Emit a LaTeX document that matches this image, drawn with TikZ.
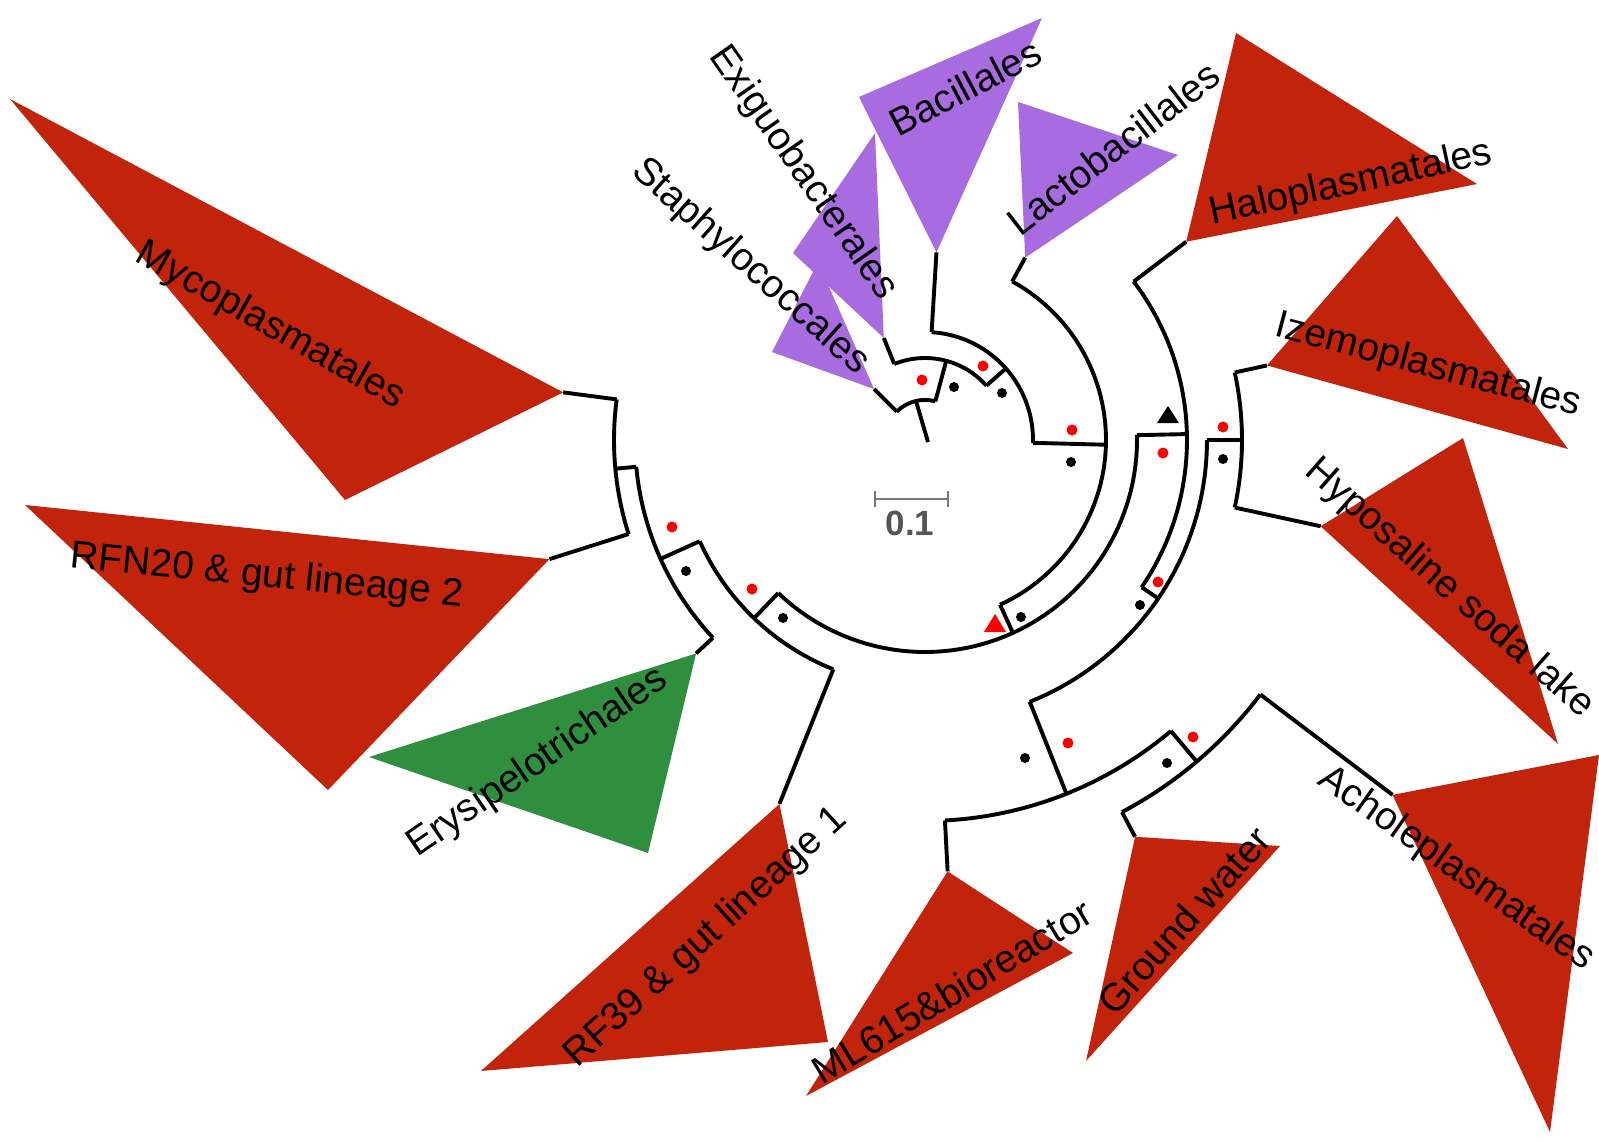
\documentclass[tikz,border=0pt]{standalone}
\usepackage{fontspec}
\setmainfont{Liberation Sans}
\definecolor{cRed}{HTML}{C1230B}
\definecolor{cPur}{HTML}{A96BE0}
\definecolor{cGrn}{HTML}{2F8F3F}
\definecolor{cBar}{HTML}{777777}
\definecolor{cTxt}{HTML}{555555}
\definecolor{cDot}{HTML}{FF0000}
\begin{document}
\begin{tikzpicture}[x=1pt,y=-1pt,
  br/.style={line width=3.9pt, black},
  lab/.style={font=\fontsize{39}{47}\selectfont, inner sep=0pt},
  rdot/.style={circle, fill=cDot, draw=none, minimum size=11pt, inner sep=0pt},
  bdot/.style={circle, fill=black, draw=none, minimum size=10pt, inner sep=0pt},
]
\useasboundingbox (0,0) rectangle (1599,1142);
\fill[white] (0,0) rectangle (1599,1142);

% ---------- tree coordinates (centre at 925,440) ----------
\begin{scope}[shift={(925,440)}]
\coordinate (root) at (3,2);
\coordinate (staT) at (-135:72);
\coordinate (exiT) at (-112:110);
\coordinate (bacT) at (-86.5:188);
\coordinate (lacT) at (-61.2:208);
\coordinate (halT) at (-37.2:328);
\coordinate (izeT) at (-12.3:350);
\coordinate (hypT) at (12.3:405);
\coordinate (achT) at (37.2:587);
\coordinate (gwT) at (62.1:449);
\coordinate (mlT) at (87:432);
\coordinate (rf39T) at (111.8:392);
\coordinate (eryT) at (137:313);
\coordinate (rfnT) at (162.4:394);
\coordinate (mycT) at (187.5:365);
\end{scope}

% ---------- wedges ----------
\fill[cRed] (mycT) -- (10,99) -- (345,500) -- cycle;
\fill[cRed] (rfnT) -- (25,505) -- (328,790) -- cycle;
\fill[cGrn] (eryT) -- (369,757) -- (648,853) -- cycle;
\fill[cRed] (rf39T) -- (481,1071) -- (828,1042) -- cycle;
\fill[cRed] (mlT) -- (806,1096) -- (1073,953) -- cycle;
\fill[cRed] (gwT) -- (1086,1061) -- (1280,846) -- cycle;
\fill[cRed] (achT) -- (1599,755) -- (1550,1132) -- cycle;
\fill[cRed] (hypT) -- (1463,438) -- (1558,744) -- cycle;
\fill[cRed] (izeT) -- (1397,216) -- (1568,449) -- cycle;
\fill[cRed] (halT) -- (1236,33) -- (1477,184) -- cycle;
\fill[cPur] (lacT) -- (1018,102) -- (1178,155) -- cycle;
\fill[cPur] (bacT) -- (859,97) -- (1042,18) -- cycle;
\fill[cPur] (staT) -- (818,262) -- (772,352) -- cycle;
\fill[cPur] (exiT) -- (875,133) -- (793,253) -- cycle;

% ---------- branches ----------
\begin{scope}[shift={(925,440)}]
% root
\draw[br] (root) -- (-103:40);
\draw[br] plot[domain=-135:-75, samples=30] (\x:40);
\draw[br] (-135:40) -- (staT);
% B
\draw[br] (-75:40) -- (-75:82);
\draw[br] plot[domain=-112:-41.5, samples=30] (\x:82);
\draw[br] (-112:82) -- (exiT);
% C
\draw[br] (-41.5:82) -- (-41.5:108);
\draw[br] plot[domain=-86.5:1.5, samples=40] (\x:108);
\draw[br] (-86.5:108) -- (bacT);
% E
\draw[br] (1.5:108) -- (1.5:181);
\draw[br] plot[domain=-61.2:65.5, samples=60] (\x:181);
\draw[br] (-61.2:181) -- (lacT);
% R
\draw[br] (65.5:181) -- (65.5:212);
\draw[br] plot[domain=-1.3:133.8, samples=70] (\x:212);
% Q
\draw[br] (133.8:212) -- (133.8:247);
\draw[br] plot[domain=111.8:155.8, samples=30] (\x:247);
\draw[br] (111.8:247) -- (rf39T);
% P
\draw[br] (155.8:247) -- (155.8:290);
\draw[br] plot[domain=137:174.7, samples=30] (\x:290);
\draw[br] (137:290) -- (eryT);
% Myco / RFN
\draw[br] (174.7:290) -- (174.7:311);
\draw[br] plot[domain=162.4:187.5, samples=30] (\x:311);
\draw[br] (187.5:311) -- (mycT);
\draw[br] (162.4:311) -- (rfnT);
% G
\draw[br] (-1.3:212) -- (-1.3:262);
\draw[br] plot[domain=-37.2:34.2, samples=40] (\x:262);
\draw[br] (-37.2:262) -- (halT);
% S
\draw[br] (34.2:262) -- (34.2:282);
\draw[br] plot[domain=0:68.2, samples=40] (\x:282);
% U
\draw[br] (0:282) -- (0:317);
\draw[br] plot[domain=-12.3:12.3, samples=20] (\x:317);
\draw[br] (-12.3:317) -- (izeT);
\draw[br] (12.3:317) -- (hypT);
% V
\draw[br] (68.2:282) -- (68.2:381);
\draw[br] plot[domain=49.8:87, samples=30] (\x:381);
\draw[br] (87:381) -- (mlT);
% W
\draw[br] (49.8:381) -- (49.8:421);
\draw[br] plot[domain=37.2:62.1, samples=30] (\x:421);
\draw[br] (62.1:421) -- (gwT);
\draw[br] (37.2:421) -- (achT);
\end{scope}

% ---------- support markers ----------
\foreach \p in {(922,380),(983,366),(1072,430),(1163,453),(1223,427),(1158,582),(672,527),(752,589),(1068,743),(1193,737)}
  \node[rdot] at \p {};
\foreach \p in {(954,387),(1002,393),(1071,462),(1223,459),(1140,605),(1021,617),(686,571),(783,618),(1025,758),(1167,763)}
  \node[bdot] at \p {};
\fill[black] (1157,423) -- (1179,423) -- (1168,406) -- cycle;
\fill[cDot] (984,632) -- (1006,632) -- (995,614) -- cycle;

% ---------- scale bar ----------
\coordinate (sb1) at (875,499);
\coordinate (sb2) at (948,499);
\draw[cBar, line width=1.8pt] (sb1) -- (sb2);
\draw[cBar, line width=1.8pt] (875,491) -- (875,507);
\draw[cBar, line width=1.8pt] (948,491) -- (948,507);
\node[font=\fontsize{35}{40}\selectfont\bfseries, text=cTxt, inner sep=0pt] (sbl) at (910,523) {0.1};

% ---------- labels ----------
\node[lab, rotate=-29.5] (lMyc) at (270,326) {Mycoplasmatales};
\node[lab, rotate=-5.6] (lRfn) at (267,577) {RFN20 \& gut lineage 2};
\node[lab, rotate=34.5] (lEry) at (538,763) {Erysipelotrichales};
\node[lab, rotate=42.3] (lRf39) at (706,938) {RF39 \& gut lineage 1};
\node[lab, rotate=31] (lMl) at (952,991) {ML615\&bioreactor};
\node[lab, rotate=48] (lGw) at (1184,920) {Ground water};
\node[lab, rotate=-35] (lAch) at (1456,869) {Acholeplasmatales};
\node[lab, rotate=-41.4] (lHyp) at (1449,589) {Hyposaline soda lake};
\node[lab, rotate=-14.8] (lIze) at (1428,366) {Izemoplasmatales};
\node[lab, rotate=12.4] (lHal) at (1351,184) {Haloplasmatales};
\node[lab, rotate=37.7] (lLac) at (1113,148) {Lactobacillales};
\node[lab, rotate=27.8] (lBac) at (965,87) {Bacillales};
\node[lab, rotate=-55] (lExi) at (803,173) {Exiguobacterales};
\node[lab, rotate=-41.7] (lSta) at (750,267) {Staphylococcales};
\end{tikzpicture}
\end{document}
